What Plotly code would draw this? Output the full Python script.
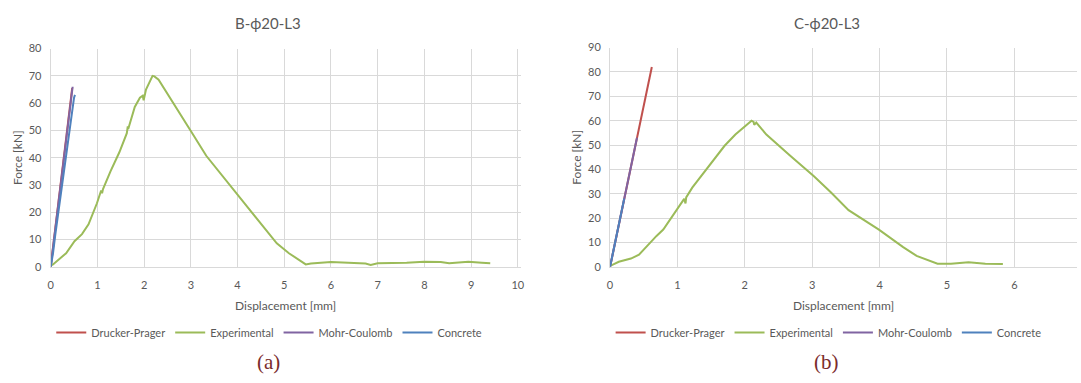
import plotly.graph_objects as go

# ---- Specimen B-ϕ20-L3 ----
b_exp_x = [0.0, 0.05, 0.33, 0.51, 0.67, 0.81, 0.99, 1.08, 1.1, 1.12, 1.28, 1.47, 1.63, 1.65, 1.66,
           1.8, 1.91, 1.97, 1.99, 2.04, 2.18, 2.22, 2.31, 2.64, 3.0, 3.33, 3.99, 4.84, 5.1, 5.46,
           5.57, 6.0, 6.74, 6.85, 7.0, 7.62, 7.99, 8.35, 8.53, 8.94, 9.23, 9.41]
b_exp_y = [0.5, 0.9, 5.0, 9.4, 12.0, 15.6, 23.3, 28.0, 27.0, 28.5, 35.0, 42.0, 49.0, 51.5, 50.5,
           58.6, 62.0, 62.7, 61.0, 65.0, 70.0, 69.8, 68.6, 59.8, 49.8, 40.7, 26.8, 8.6, 5.0, 0.9,
           1.2, 1.8, 1.2, 0.7, 1.3, 1.5, 1.9, 1.8, 1.3, 1.9, 1.5, 1.3]
b_dp_x = [0.0, 0.1, 0.2, 0.3, 0.4, 0.46]
b_dp_y = [0.0, 14.0, 28.0, 41.5, 56.0, 65.5]
b_mc_x = [0.0, 0.1, 0.2, 0.3, 0.4, 0.47]
b_mc_y = [0.0, 14.2, 28.3, 42.0, 56.0, 66.0]
b_con_x = [0.0, 0.05, 0.1, 0.2, 0.3, 0.4, 0.45, 0.5, 0.52]
b_con_y = [0.0, 5.0, 12.0, 25.0, 38.0, 50.0, 56.0, 62.0, 63.0]

# ---- Specimen C-ϕ20-L3 ----
c_exp_x = [0.0, 0.01, 0.13, 0.31, 0.43, 0.53, 0.69, 0.79, 0.99, 1.1, 1.12, 1.13, 1.22, 1.4, 1.53,
           1.7, 1.86, 1.98, 2.06, 2.1, 2.13, 2.14, 2.17, 2.32, 2.67, 3.03, 3.28, 3.54, 3.99, 4.35,
           4.55, 4.86, 5.06, 5.32, 5.57, 5.83]
c_exp_y = [0.0, 0.5, 2.1, 3.4, 5.0, 8.0, 12.7, 15.3, 23.3, 27.9, 26.0, 28.5, 32.5, 39.0, 43.3,
           49.7, 54.3, 57.0, 59.0, 60.0, 59.5, 58.3, 59.2, 54.3, 45.7, 37.1, 30.5, 23.3, 15.3, 8.1,
           4.5, 1.3, 1.3, 1.9, 1.3, 1.2]
c_dp_x = [0.0, 0.2, 0.4, 0.62]
c_dp_y = [0.0, 26.5, 53.0, 82.0]
c_mc_x = [0.0, 0.2, 0.4]
c_mc_y = [0.0, 26.5, 53.0]
c_con_x = [0.0, 0.1, 0.21]
c_con_y = [0.0, 13.3, 28.0]

series_names = ["Drucker-Prager", "Experimental", "Mohr-Coulomb", "Concrete"]
series_colors = ["#c0504d", "#9bbb59", "#8064a2", "#4f81bd"]

titles = ["B-ϕ20-L3", "C-ϕ20-L3"]
captions = ["(a)", "(b)"]

b_x_ticks = list(range(0, 11))
b_y_ticks = list(range(0, 81, 10))
c_x_ticks = list(range(0, 7))
c_y_ticks = list(range(0, 91, 10))

W, H = 1081, 383
TEXT = "#595959"
GRID = "#d9d9d9"
FONT = "Lato, 'Open Sans', sans-serif"

def px_x(p):
    return p / W

def px_y(p):
    return 1 - p / H

fig = go.Figure()

panels = [
    dict(data=[(b_dp_x, b_dp_y), (b_exp_x, b_exp_y), (b_mc_x, b_mc_y), (b_con_x, b_con_y)],
         xa="x", ya="y", legend="legend"),
    dict(data=[(c_dp_x, c_dp_y), (c_exp_x, c_exp_y), (c_mc_x, c_mc_y), (c_con_x, c_con_y)],
         xa="x2", ya="y2", legend="legend2"),
]

for panel in panels:
    for name, color, (xs, ys) in zip(series_names, series_colors, panel["data"]):
        fig.add_trace(go.Scatter(
            x=xs, y=ys, mode="lines", name=name,
            line=dict(color=color, width=2),
            xaxis=panel["xa"], yaxis=panel["ya"], legend=panel["legend"],
            hoverinfo="skip",
        ))

axis_common = dict(
    showgrid=True, gridcolor=GRID, gridwidth=1, zeroline=False,
    showline=True, linecolor=GRID, linewidth=1, mirror=False,
    ticks="", tickfont=dict(family=FONT, size=11, color=TEXT),
    fixedrange=True,
)
title_font = dict(family=FONT, size=12, color=TEXT)

fig.update_layout(
    width=W, height=H,
    margin=dict(l=0, r=0, t=0, b=0),
    paper_bgcolor="white", plot_bgcolor="white",
    showlegend=True,
    xaxis=dict(axis_common, domain=[px_x(48), px_x(521)], range=[0, 10.06],
               tickvals=b_x_ticks, anchor="y", ticklabelstandoff=8,
               title=dict(text="Displacement [mm]", font=title_font, standoff=11)),
    yaxis=dict(axis_common, domain=[px_y(269), px_y(43)], range=[0, 80],
               tickvals=b_y_ticks, anchor="x", ticklabelstandoff=6,
               title=dict(text="Force [kN]", font=title_font, standoff=3)),
    xaxis2=dict(axis_common, domain=[px_x(611), 1.0], range=[0, 6.93],
                tickvals=c_x_ticks, anchor="y2", ticklabelstandoff=8,
                title=dict(text="Displacement [mm]", font=title_font, standoff=11)),
    yaxis2=dict(axis_common, domain=[px_y(269), px_y(42)], range=[0, 90],
                tickvals=c_y_ticks, anchor="x2", ticklabelstandoff=6,
                title=dict(text="Force [kN]", font=title_font, standoff=3)),
    legend=dict(orientation="h", x=px_x(268), xanchor="center", y=px_y(337), yanchor="middle",
                font=dict(family=FONT, size=11, color=TEXT), bgcolor="rgba(0,0,0,0)",
                itemwidth=30, tracegroupgap=0),
    legend2=dict(orientation="h", x=px_x(831), xanchor="center", y=px_y(337), yanchor="middle",
                 font=dict(family=FONT, size=11, color=TEXT), bgcolor="rgba(0,0,0,0)",
                 itemwidth=30, tracegroupgap=0),
)

for cx, title, cap in zip([267, 829], titles, captions):
    fig.add_annotation(x=px_x(cx), y=px_y(17), xref="paper", yref="paper",
                       text=title, showarrow=False, xanchor="center", yanchor="middle",
                       font=dict(family=FONT, size=15, color=TEXT))
    fig.add_annotation(x=px_x(cx), y=px_y(367), xref="paper", yref="paper",
                       text=cap, showarrow=False, xanchor="center", yanchor="middle",
                       font=dict(family="'Liberation Serif', 'DejaVu Serif', serif", size=21,
                                 color="#7b2c2c"))

fig.write_html("out.html")
